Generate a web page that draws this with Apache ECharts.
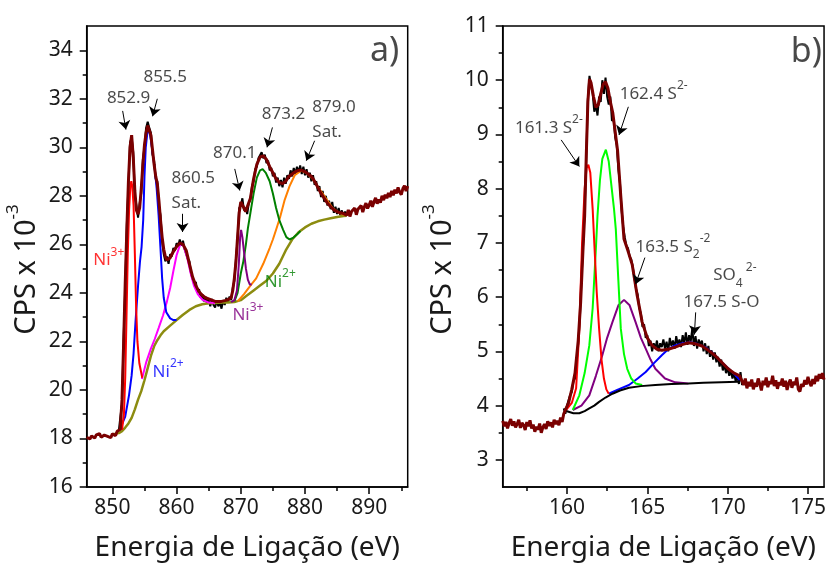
<!DOCTYPE html>
<html><head><meta charset="utf-8">
<script src="https://cdn.jsdelivr.net/npm/echarts@6/dist/echarts.min.js"></script>
<style>html,body{margin:0;padding:0;background:#fff}#c{width:829px;height:567px}</style>
</head><body><div id="c"></div>
<script>
// ---------- Panel a) Ni 2p ----------
const niXTicks = [850, 860, 870, 880, 890];
const niXMinor = [855, 865, 875, 885, 895];
const niYTicks = [16, 18, 20, 22, 24, 26, 28, 30, 32, 34];
const niYMinor = [17, 19, 21, 23, 25, 27, 29, 31, 33];
// raw spectrum outside fit region (start, step 0.25 eV)
const niRawLowStart = 846.0;
const niRawLow = [18.05,18.12,17.98,18.10,18.18,18.02,18.15,18.08,18.20,18.05,17.97,18.14,18.22,18.09,18.17,18.03,18.19,18.26,18.12,18.30,18.22,18.38];
const niRawHighStart = 886.5;
const niRawHigh = [27.20,27.42,27.15,27.35,27.28,27.50,27.22,27.45,27.38,27.60,27.33,27.55,27.70,27.48,27.62,27.80,27.55,27.75,27.92,27.68,27.85,27.72,28.00,27.82,28.05,27.90,28.12,27.95,28.20,28.02,28.25,28.10,28.35,28.15,28.05,28.30,28.42,28.20,28.40];
// measured data inside fit region (start, step 0.25 eV)
const niDataStart = 851.0;
const niData = [18.3,18.9,19.4,22.1,24.2,26.8,28.4,30.2,30.4,29.8,28.0,27.6,27.1,27.7,28.1,29.5,30.0,30.8,31.05,30.8,30.6,29.7,29.45,28.7,28.6,27.6,27.2,26.1,25.6,25.3,25.5,25.2,25.6,25.5,25.85,25.75,26.05,25.95,26.2,25.95,26.15,25.8,25.85,25.4,25.3,24.8,24.75,24.35,24.45,24.0,24.15,23.8,23.95,23.65,23.85,23.55,23.7,23.45,23.75,23.5,23.4,23.7,23.45,23.6,23.35,23.7,23.5,23.8,23.6,23.85,23.7,24.2,24.5,25.4,26.2,27.5,27.6,27.9,27.4,27.5,27.25,27.7,27.85,28.4,28.6,29.1,29.2,29.55,29.5,29.8,29.55,29.7,29.35,29.45,29.05,29.15,28.8,28.95,28.55,28.75,28.4,28.65,28.35,28.75,28.5,28.85,28.7,29.05,28.8,29.15,28.9,29.2,28.95,29.25,28.9,29.2,28.85,29.1,28.75,28.95,28.6,28.85,28.45,28.6,28.2,28.4,27.95,28.2,27.75,28.0,27.6,27.8,27.45,27.75,27.3,27.55,27.25,27.5,27.2,27.4,27.15,27.35,27.2];
const niEnvelope = [[851.25,18.5],[851.5,19.6],[851.75,21.9],[852.0,24.4],[852.25,26.6],[852.5,28.6],[852.75,30.0],[853.0,30.5],[853.25,29.6],[853.5,28.2],[853.75,27.4],[854.0,27.25],[854.25,27.5],[854.5,28.3],[854.75,29.3],[855.0,30.1],[855.25,30.6],[855.5,30.9],[855.75,30.9],[856.0,30.5],[856.25,29.9],[856.5,29.3],[856.75,28.8],[857.0,28.5],[857.25,27.8],[857.5,27.0],[857.75,26.3],[858.0,25.8],[858.25,25.5],[858.5,25.35],[858.75,25.35],[859.0,25.45],[859.5,25.7],[860.0,25.9],[860.5,26.05],[861.0,26.0],[861.5,25.75],[862.0,25.2],[862.5,24.65],[863.0,24.3],[863.5,24.05],[864.0,23.9],[864.5,23.8],[865.0,23.75],[865.5,23.7],[866.0,23.65],[866.5,23.65],[867.0,23.65],[867.5,23.68],[868.0,23.72],[868.5,23.8],[868.75,24.1],[869.0,24.6],[869.25,25.3],[869.5,26.3],[869.75,27.3],[870.0,27.75],[870.25,27.75],[870.5,27.5],[870.75,27.35],[871.0,27.4],[871.5,27.9],[872.0,28.7],[872.5,29.3],[873.0,29.6],[873.5,29.65],[874.0,29.5],[874.5,29.2],[875.0,28.95],[875.5,28.7],[876.0,28.55],[876.5,28.5],[877.0,28.6],[877.5,28.8],[878.0,28.9],[878.5,29.0],[879.0,29.05],[879.5,29.05],[880.0,29.0],[880.5,28.9],[881.0,28.8],[881.5,28.6],[882.0,28.35],[882.5,28.1],[883.0,27.9],[883.5,27.7],[884.0,27.55],[884.5,27.42],[885.0,27.35],[885.5,27.3],[886.0,27.27],[886.25,27.26]];
const niBackground = [[850.0,18.15],[850.5,18.2],[851.0,18.22],[851.5,18.3],[852.0,18.45],[852.5,18.62],[853.0,18.85],[853.5,19.2],[854.0,19.6],[854.5,19.95],[855.0,20.4],[855.5,20.9],[856.0,21.4],[856.5,21.8],[857.0,22.05],[857.5,22.25],[858.0,22.42],[859.0,22.65],[860.0,22.88],[861.0,23.1],[862.0,23.3],[863.0,23.45],[864.0,23.53],[865.0,23.57],[866.0,23.58],[867.0,23.6],[868.0,23.6],[869.0,23.62],[870.0,23.7],[871.0,23.9],[872.0,24.1],[873.0,24.3],[874.0,24.5],[875.0,24.8],[876.0,25.2],[877.0,25.75],[878.0,26.2],[879.0,26.5],[880.0,26.7],[881.0,26.85],[882.0,26.95],[883.0,27.02],[884.0,27.08],[885.0,27.13],[886.0,27.17],[886.5,27.18]];
const niNi3a = [[851.5,18.35],[851.8,19.0],[852.0,20.5],[852.2,23.0],[852.4,25.6],[852.6,27.4],[852.8,28.4],[852.95,28.6],[853.1,28.4],[853.3,27.6],[853.5,25.6],[853.7,23.4],[853.9,22.0],[854.2,21.1],[854.65,20.5]];
const niNi2a = [[851.2,18.4],[852.0,18.9],[852.6,19.8],[853.0,20.6],[853.3,21.5],[853.6,22.8],[854.0,24.3],[854.3,25.3],[854.55,25.9],[854.8,27.0],[855.0,28.8],[855.2,30.0],[855.45,30.6],[855.7,30.75],[856.0,30.3],[856.3,29.7],[856.6,29.1],[856.9,28.3],[857.2,27.2],[857.5,25.8],[857.75,24.6],[858.0,23.8],[858.4,23.2],[859.0,22.95],[859.5,22.88],[860.0,22.88]];
const niSatA = [[854.6,20.45],[855.3,21.17],[856.0,21.7],[856.6,22.1],[857.2,22.55],[857.9,23.08],[858.5,23.65],[859.0,24.2],[859.5,24.9],[860.0,25.55],[860.5,25.95],[860.8,26.05],[861.2,25.85],[861.7,25.4],[862.2,24.8],[862.7,24.3],[863.3,23.95],[864.0,23.72],[865.0,23.6],[866.0,23.58]];
const niNi3b = [[868.5,23.62],[869.0,23.7],[869.4,24.1],[869.7,25.2],[869.9,26.3],[870.05,26.6],[870.25,26.3],[870.5,25.7],[870.8,25.0],[871.1,24.55],[871.4,24.35],[871.7,24.35]];
const niNi2b = [[869.0,23.65],[869.5,24.0],[870.0,24.8],[870.4,25.3],[870.8,26.0],[871.1,26.65],[871.5,27.3],[872.0,28.1],[872.5,28.75],[873.0,29.05],[873.4,29.1],[873.9,28.95],[874.5,28.6],[875.0,28.1],[875.5,27.5],[876.0,27.0],[876.6,26.6],[877.1,26.3],[877.6,26.2],[878.2,26.28],[878.8,26.42],[879.3,26.55]];
const niSatB = [[869.5,23.65],[870.5,23.95],[871.5,24.3],[872.4,24.6],[873.5,25.2],[874.5,25.85],[875.0,26.2],[875.5,26.6],[876.1,27.1],[876.8,27.8],[877.6,28.4],[878.4,28.85],[879.4,29.04],[880.2,28.95],[881.2,28.7],[882.2,28.3],[883.3,27.88],[884.3,27.5],[885.3,27.3],[886.3,27.2]];

// ---------- Panel b) S 2p ----------
const sXTicks = [160, 165, 170, 175];
const sXMinor = [157.5, 162.5, 167.5, 172.5];
const sYTicks = [3, 4, 5, 6, 7, 8, 9, 10, 11];
const sYMinor = [3.5, 4.5, 5.5, 6.5, 7.5, 8.5, 9.5, 10.5];
const sRawLowStart = 156.0;
const sRawLow = [3.72,3.62,3.70,3.58,3.68,3.75,3.63,3.71,3.60,3.66,3.74,3.59,3.68,3.64,3.55,3.70,3.62,3.73,3.58,3.65,3.52,3.61,3.56,3.67,3.50,3.60,3.66,3.57,3.71,3.63,3.69,3.60,3.74,3.66,3.72,3.64,3.78,3.70,3.85,3.92];
const sRawHighStart = 170.8;
const sRawHigh = [4.58,4.45,4.38,4.50,4.32,4.44,4.36,4.48,4.30,4.42,4.35,4.50,4.40,4.28,4.46,4.38,4.52,4.34,4.45,4.40,4.55,4.36,4.47,4.31,4.43,4.38,4.50,4.35,4.46,4.29,4.41,4.48,4.33,4.44,4.38,4.52,4.30,4.26,4.40,4.35,4.47,4.39,4.53,4.42,4.36,4.49,4.40,4.55,4.45,4.58,4.50,4.60,4.48];
const sDataStart = 159.8;
const sData = [3.95,3.85,4.0,4.02,4.2,4.25,4.45,4.5,4.8,5.15,5.6,6.3,6.95,7.6,8.55,9.65,10.08,9.9,9.75,9.42,9.55,9.35,9.7,9.6,10.0,9.75,10.05,9.7,9.55,9.7,9.25,9.3,8.95,8.8,8.35,8.1,7.6,7.3,7.1,6.95,6.9,6.75,6.7,6.55,6.35,6.15,6.05,5.8,5.7,5.45,5.5,5.25,5.3,5.1,5.2,5.0,5.15,5.05,5.2,5.0,5.15,5.08,5.22,5.05,5.18,5.0,5.25,5.1,5.2,5.05,5.28,5.12,5.22,5.08,5.3,5.15,5.35,5.12,5.3,5.18,5.42,5.1,5.28,5.05,5.22,5.12,5.2,5.0,5.15,4.95,5.1,4.9,5.02,4.85,4.98,4.8,4.9,4.72,4.85,4.65,4.75,4.6,4.7,4.55,4.65,4.5,4.6,4.45,4.55,4.4,4.62,4.38];
const sEnvelope = [[159.9,3.92],[160.1,4.05],[160.3,4.3],[160.5,4.6],[160.7,5.2],[160.85,5.9],[161.0,6.9],[161.1,7.5],[161.2,8.6],[161.3,9.6],[161.4,10.02],[161.5,9.95],[161.65,9.7],[161.8,9.5],[161.95,9.55],[162.1,9.75],[162.25,9.92],[162.4,9.97],[162.55,9.85],[162.7,9.6],[162.85,9.4],[163.0,9.05],[163.15,8.7],[163.35,7.86],[163.55,7.07],[163.8,6.85],[164.06,6.6],[164.37,6.03],[164.68,5.54],[165.0,5.25],[165.3,5.11],[165.6,5.04],[165.9,5.02],[166.3,5.04],[166.74,5.08],[167.1,5.12],[167.56,5.16],[168.0,5.14],[168.4,5.1],[168.8,5.02],[169.2,4.93],[169.6,4.81],[170.03,4.68],[170.4,4.6],[170.75,4.55]];
const sBackground = [[159.95,3.9],[160.4,3.86],[160.77,3.86],[161.1,3.9],[161.39,3.95],[161.7,4.0],[162.0,4.07],[162.4,4.15],[162.83,4.22],[163.3,4.28],[163.86,4.33],[164.6,4.36],[165.5,4.38],[166.5,4.4],[167.56,4.41],[168.5,4.42],[169.6,4.43],[170.65,4.44]];
const sS161 = [[159.95,3.92],[160.3,4.05],[160.57,4.32],[160.77,5.42],[160.94,7.0],[161.1,8.0],[161.22,8.38],[161.33,8.44],[161.45,8.3],[161.6,7.62],[161.7,7.0],[161.85,6.1],[162.0,5.42],[162.15,4.85],[162.3,4.5],[162.45,4.3],[162.6,4.22]];
const sS162 = [[160.36,3.92],[160.77,4.19],[161.1,4.6],[161.39,5.11],[161.6,5.8],[161.8,6.9],[161.9,7.5],[162.05,8.15],[162.2,8.55],[162.42,8.72],[162.6,8.5],[162.75,8.1],[162.93,7.62],[163.04,7.25],[163.2,6.3],[163.35,5.42],[163.55,4.95],[163.75,4.68],[164.0,4.5],[164.27,4.41],[164.68,4.38]];
const sS163 = [[160.36,3.92],[160.9,4.0],[161.39,4.19],[161.8,4.55],[162.2,4.93],[162.5,5.25],[162.83,5.54],[163.2,5.85],[163.55,5.95],[163.9,5.85],[164.27,5.54],[164.6,5.25],[164.9,5.05],[165.2,4.85],[165.5,4.68],[166.1,4.5],[166.74,4.43],[167.56,4.41]];
const sS167 = [[162.6,4.22],[163.2,4.3],[163.86,4.38],[164.4,4.5],[164.9,4.62],[165.4,4.78],[165.9,4.93],[166.3,5.04],[166.74,5.11],[167.2,5.15],[167.67,5.17],[168.1,5.14],[168.6,5.08],[169.1,4.96],[169.6,4.81],[170.0,4.7],[170.4,4.59],[170.75,4.47]];

// ---------- annotations (data coordinates) ----------
const niNotes = [
  {t:'852.9', x:852.53, y:32.03, align:'center'},
  {t:'855.5', x:858.22, y:32.91, align:'center'},
  {t:'860.5\nSat.', x:859.22, y:28.23, align:'left'},
  {t:'870.1', x:869.06, y:29.76, align:'center'},
  {t:'873.2', x:876.65, y:31.37, align:'center'},
  {t:'879.0\nSat.', x:881.15, y:31.15, align:'left'}
];
const niIons = [
  {ion:'Ni', ch:'3+', color:'#FF0000', x:847.03, y:25.33},
  {ion:'Ni', ch:'2+', color:'#0000FF', x:856.26, y:20.75},
  {ion:'Ni', ch:'3+', color:'#800080', x:868.7, y:23.08},
  {ion:'Ni', ch:'2+', color:'#008000', x:873.73, y:24.45}
];
const niArrows = [[851.6,31.5,852.11,30.73],[857.0,32.0,856.26,31.28],[860.93,27.26,860.93,26.51],[869.06,29.11,869.84,28.22],[874.93,30.82,874.09,30.0],[881.5,30.27,880.21,29.45]];
const sNotes = [
  {rich:'{n|161.3 S}{s|2-}', x:156.76, y:9.12},
  {rich:'{n|162.4 S}{s|2-}', x:163.28, y:9.75},
  {rich:'{n|163.5 S}{b|2}{s|-2}', x:164.27, y:6.93},
  {rich:'{n|SO}{b|4}{s| 2-}', x:169.1, y:6.4},
  {rich:'{n|167.5 S-O}', x:167.25, y:5.91}
];
const sArrows = [[159.64,8.90,160.77,8.41],[163.82,9.51,163.24,8.99],[164.85,6.73,164.27,6.24],[168.01,5.72,167.93,5.31]];
const panelTags = [{t:'a)', x:892.39, y:33.96, g:0}, {t:'b)', x:174.9, y:10.52, g:1}];

// ---------- build ----------
const FF = '"Noto Sans", "Open Sans", sans-serif';
const TXT = '#1a1a1a';
const stepSeries = (start, step, ys) => ys.map((y, i) => [Math.round((start + i * step) * 100) / 100, y]);

function line(g, data, color, width, z) {
  return {type:'line', xAxisIndex: g*2, yAxisIndex: g*2, data, showSymbol:false, symbol:'none',
    lineStyle:{color, width}, silent:true, animation:false, z: z||2, smooth:false};
}
function xAxes(g, min, max, major, minor) {
  return [
    {type:'value', gridIndex:g, position:'bottom', min, max,
     axisLine:{show:true, onZero:false, lineStyle:{color:'#000', width:1.5}},
     axisTick:{show:true, customValues:major, length:7, lineStyle:{color:'#000', width:1.5}},
     axisLabel:{customValues:major, fontSize:21, color:TXT, margin:11, fontFamily:FF},
     splitLine:{show:false},
     name:'Energia de Ligação (eV)', nameLocation:'middle', nameGap:47,
     nameTextStyle:{fontSize:28, color:TXT, fontFamily:FF}},
    {type:'value', gridIndex:g, position:'bottom', min, max,
     axisLine:{show:false, onZero:false}, axisTick:{show:true, customValues:minor, length:4, lineStyle:{color:'#000', width:1.5}},
     axisLabel:{show:false}, splitLine:{show:false}}
  ];
}
function yAxes(g, min, max, major, minor) {
  return [
    {type:'value', gridIndex:g, position:'left', min, max,
     axisLine:{show:true, onZero:false, lineStyle:{color:'#000', width:1.5}},
     axisTick:{show:true, customValues:major, length:7, lineStyle:{color:'#000', width:1.5}},
     axisLabel:{customValues:major, fontSize:21, color:TXT, margin:14, fontFamily:FF},
     splitLine:{show:false},
     name:'{a|CPS x 10}{s|-3}', nameLocation:'middle', nameGap:38,
     nameTextStyle:{fontSize:28, color:TXT, fontFamily:FF, padding:[0,26,0,0],
       rich:{a:{fontSize:29, lineHeight:44, fontFamily:FF, color:TXT}, s:{fontSize:17, verticalAlign:'top', fontFamily:FF, color:TXT}}}},
    {type:'value', gridIndex:g, position:'left', min, max,
     axisLine:{show:false, onZero:false}, axisTick:{show:true, customValues:minor, length:4, lineStyle:{color:'#000', width:1.5}},
     axisLabel:{show:false}, splitLine:{show:false}}
  ];
}
function arrowLines(arr) {
  return {silent:true, symbol:['none','arrow'], symbolSize:9, animation:false,
    label:{show:false}, lineStyle:{color:'#000', width:1, type:'solid'},
    itemStyle:{color:'#000'},
    emphasis:{disabled:true},
    data: arr.map(a => [{coord:[a[0], a[1]]}, {coord:[a[2], a[3]]}])};
}
const richBase = {
  n:{fontSize:17, lineHeight:28, fontFamily:FF, color:TXT},
  s:{fontSize:12, verticalAlign:'top', fontFamily:FF, color:TXT},
  b:{fontSize:12, verticalAlign:'bottom', fontFamily:FF, color:TXT}
};
function noteSeries(g, items, arrows) {
  return {type:'scatter', xAxisIndex:g*2, yAxisIndex:g*2, symbolSize:1, itemStyle:{color:'rgba(0,0,0,0)'},
    silent:true, animation:false, z:10, data: items, markLine: arrows ? arrowLines(arrows) : undefined};
}

const niNoteItems = niNotes.map(n => ({value:[n.x, n.y], label:{show:true, position:'inside', formatter:n.t,
  align:n.align, verticalAlign:'middle', fontSize:17, lineHeight:25, fontFamily:FF, color:TXT}}));
const niIonItems = niIons.map(n => ({value:[n.x, n.y], label:{show:true, position:'inside',
  formatter:'{n|' + n.ion + '}{s|' + n.ch + '}', align:'left', verticalAlign:'middle',
  rich:{n:{fontSize:17, lineHeight:28, fontFamily:FF, color:n.color}, s:{fontSize:12, verticalAlign:'top', fontFamily:FF, color:n.color}}}}));
const sNoteItems = sNotes.map(n => ({value:[n.x, n.y], label:{show:true, position:'inside', formatter:n.rich,
  align:'left', verticalAlign:'middle', rich:richBase}}));
const tagItems = g => panelTags.filter(p => p.g === g).map(p => ({value:[p.x, p.y], label:{show:true, position:'inside',
  formatter:p.t, align:'center', verticalAlign:'middle', fontSize:34, fontFamily:FF, color:TXT}}));

const niMaroon = stepSeries(niRawLowStart, 0.25, niRawLow).concat(niEnvelope, stepSeries(niRawHighStart, 0.25, niRawHigh));
const sMaroon = stepSeries(sRawLowStart, 0.1, sRawLow).concat(sEnvelope, stepSeries(sRawHighStart, 0.1, sRawHigh));

const option = {
  backgroundColor:'#fff',
  animation:false,
  grid:[
    {left:86.7, top:26, width:321, height:463, show:true, borderColor:'#000', borderWidth:1.5, backgroundColor:'transparent'},
    {left:502.7, top:26, width:322.3, height:463, show:true, borderColor:'#000', borderWidth:1.5, backgroundColor:'transparent'}
  ],
  xAxis: xAxes(0, 846, 896, niXTicks, niXMinor).concat(xAxes(1, 156, 176, sXTicks, sXMinor)),
  yAxis: yAxes(0, 16, 35, niYTicks, niYMinor).concat(yAxes(1, 2.5, 11, sYTicks, sYMinor)),
  series:[
    line(0, stepSeries(niDataStart, 0.25, niData), '#000000', 2, 2),
    line(0, niBackground, '#8C8C10', 2.5, 3),
    line(0, niSatA, '#FF00FF', 2, 3),
    line(0, niNi2a, '#0000FF', 2, 3),
    line(0, niNi3a, '#FF0000', 2, 3),
    line(0, niSatB, '#FF8000', 2, 3),
    line(0, niNi2b, '#008000', 2, 3),
    line(0, niNi3b, '#800080', 2, 3),
    line(0, niMaroon, '#7A0000', 3, 4),
    noteSeries(0, niNoteItems.concat(niIonItems, tagItems(0)), niArrows),
    line(1, stepSeries(sDataStart, 0.1, sData), '#000000', 2, 2),
    line(1, sS163, '#800080', 2, 3),
    line(1, sS167, '#0000FF', 2, 3),
    line(1, sS162, '#00FF00', 2, 3),
    line(1, sS161, '#FF0000', 2, 3),
    line(1, sBackground, '#000000', 2, 3),
    line(1, sMaroon, '#7A0000', 3, 4),
    noteSeries(1, sNoteItems.concat(tagItems(1)), sArrows)
  ]
};
const chart = echarts.init(document.getElementById('c'), null, {renderer:'canvas'});
chart.setOption(option);
</script></body></html>
